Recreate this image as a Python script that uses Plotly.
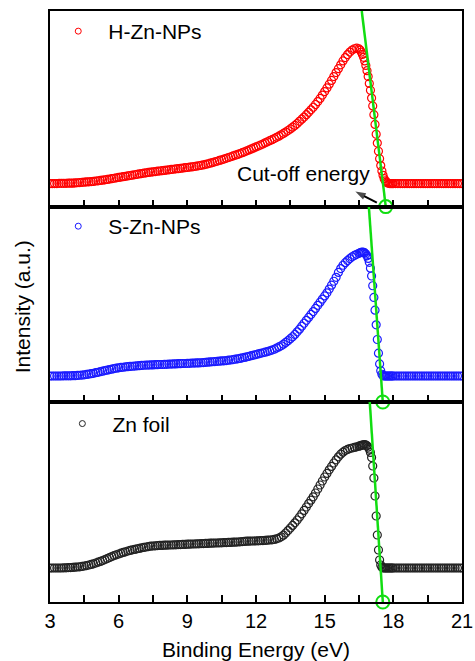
import numpy as np
import plotly.graph_objects as go

# Binding-energy grid (eV): 0.1 eV steps, 0.05 eV across the cut-off edge
energy = np.round(np.concatenate([
    np.arange(3.0, 16.41, 0.1),
    np.arange(16.5, 17.951, 0.05),
    np.arange(18.0, 21.01, 0.1),
]), 3)

# Normalised UPS intensity for each sample (0 = panel floor, 1 = panel ceiling)
h_zn_nps = [
    0.118, 0.118, 0.118, 0.118, 0.119, 0.119, 0.119, 0.119, 0.120, 0.120,
    0.120, 0.121, 0.122, 0.123, 0.124, 0.125, 0.126, 0.127, 0.128, 0.129,
    0.131, 0.132, 0.134, 0.135, 0.137, 0.139, 0.141, 0.143, 0.145, 0.147,
    0.149, 0.151, 0.153, 0.155, 0.157, 0.159, 0.161, 0.163, 0.165, 0.167,
    0.169, 0.171, 0.173, 0.175, 0.176, 0.178, 0.179, 0.181, 0.182, 0.184,
    0.185, 0.187, 0.188, 0.190, 0.191, 0.193, 0.194, 0.196, 0.197, 0.199,
    0.200, 0.202, 0.203, 0.205, 0.207, 0.209, 0.211, 0.213, 0.216, 0.219,
    0.222, 0.225, 0.229, 0.232, 0.236, 0.239, 0.243, 0.247, 0.251, 0.255,
    0.259, 0.263, 0.267, 0.271, 0.276, 0.280, 0.285, 0.290, 0.295, 0.300,
    0.305, 0.310, 0.315, 0.320, 0.326, 0.331, 0.337, 0.342, 0.348, 0.354,
    0.360, 0.367, 0.374, 0.381, 0.389, 0.397, 0.406, 0.415, 0.425, 0.436,
    0.447, 0.458, 0.470, 0.482, 0.495, 0.508, 0.522, 0.537, 0.553, 0.570,
    0.588, 0.607, 0.626, 0.645, 0.665, 0.685, 0.705, 0.725, 0.745, 0.762,
    0.777, 0.790, 0.800, 0.807, 0.810,
    0.806, 0.800, 0.790, 0.778, 0.763, 0.745, 0.722, 0.695, 0.665, 0.630,
    0.595, 0.555, 0.515, 0.470, 0.420, 0.370, 0.325, 0.283, 0.245, 0.210,
    0.182, 0.160, 0.143, 0.132, 0.125, 0.121, 0.119, 0.118, 0.118, 0.118,
    0.118, 0.118, 0.118, 0.118, 0.118, 0.118, 0.118, 0.118, 0.118, 0.118,
    0.118, 0.118, 0.118, 0.118, 0.118, 0.118, 0.118, 0.118, 0.118, 0.118,
    0.118, 0.118, 0.118, 0.118, 0.118, 0.118, 0.118, 0.118, 0.118, 0.118,
    0.118,
]

s_zn_nps = [
    0.133, 0.133, 0.133, 0.133, 0.133, 0.133, 0.134, 0.134, 0.134, 0.134,
    0.135, 0.135, 0.136, 0.137, 0.138, 0.139, 0.141, 0.143, 0.145, 0.147,
    0.150, 0.152, 0.155, 0.158, 0.161, 0.163, 0.166, 0.168, 0.171, 0.173,
    0.175, 0.177, 0.178, 0.180, 0.181, 0.182, 0.183, 0.184, 0.185, 0.186,
    0.187, 0.188, 0.189, 0.189, 0.190, 0.190, 0.191, 0.191, 0.192, 0.192,
    0.193, 0.193, 0.194, 0.194, 0.195, 0.195, 0.196, 0.196, 0.197, 0.197,
    0.198, 0.198, 0.199, 0.199, 0.200, 0.200, 0.201, 0.202, 0.203, 0.204,
    0.205, 0.206, 0.207, 0.208, 0.209, 0.210, 0.211, 0.212, 0.214, 0.215,
    0.217, 0.219, 0.221, 0.223, 0.226, 0.228, 0.231, 0.234, 0.237, 0.240,
    0.243, 0.246, 0.249, 0.252, 0.255, 0.258, 0.262, 0.266, 0.270, 0.276,
    0.282, 0.288, 0.296, 0.305, 0.314, 0.324, 0.334, 0.346, 0.359, 0.373,
    0.388, 0.403, 0.418, 0.433, 0.448, 0.463, 0.479, 0.495, 0.511, 0.527,
    0.543, 0.559, 0.578, 0.598, 0.618, 0.638, 0.663, 0.683, 0.700, 0.713,
    0.724, 0.734, 0.743, 0.750, 0.756,
    0.761, 0.764, 0.766, 0.767, 0.766, 0.763, 0.757, 0.748, 0.735, 0.715,
    0.685, 0.645, 0.595, 0.535, 0.470, 0.395, 0.320, 0.250, 0.195, 0.160,
    0.142, 0.135, 0.133, 0.133, 0.133, 0.133, 0.133, 0.133, 0.133, 0.133,
    0.133, 0.133, 0.133, 0.133, 0.133, 0.133, 0.133, 0.133, 0.133, 0.133,
    0.133, 0.133, 0.133, 0.133, 0.133, 0.133, 0.133, 0.133, 0.133, 0.133,
    0.133, 0.133, 0.133, 0.133, 0.133, 0.133, 0.133, 0.133, 0.133, 0.133,
    0.133,
]

zn_foil = [
    0.170, 0.170, 0.170, 0.170, 0.170, 0.170, 0.171, 0.171, 0.172, 0.172,
    0.173, 0.174, 0.175, 0.176, 0.178, 0.180, 0.182, 0.185, 0.188, 0.191,
    0.195, 0.199, 0.203, 0.207, 0.212, 0.217, 0.222, 0.227, 0.232, 0.236,
    0.240, 0.244, 0.248, 0.251, 0.255, 0.258, 0.261, 0.263, 0.266, 0.268,
    0.271, 0.273, 0.275, 0.277, 0.279, 0.280, 0.281, 0.282, 0.283, 0.283,
    0.284, 0.284, 0.285, 0.285, 0.286, 0.286, 0.287, 0.287, 0.288, 0.288,
    0.289, 0.289, 0.290, 0.290, 0.291, 0.291, 0.292, 0.292, 0.293, 0.293,
    0.294, 0.294, 0.295, 0.295, 0.296, 0.296, 0.297, 0.297, 0.298, 0.298,
    0.299, 0.299, 0.300, 0.301, 0.302, 0.303, 0.304, 0.304, 0.305, 0.305,
    0.306, 0.306, 0.307, 0.307, 0.308, 0.309, 0.310, 0.311, 0.313, 0.316,
    0.320, 0.326, 0.334, 0.345, 0.357, 0.370, 0.383, 0.396, 0.410, 0.425,
    0.441, 0.458, 0.475, 0.492, 0.509, 0.526, 0.545, 0.565, 0.585, 0.605,
    0.625, 0.643, 0.661, 0.678, 0.695, 0.711, 0.726, 0.739, 0.749, 0.757,
    0.763, 0.767, 0.770, 0.773, 0.776,
    0.779, 0.781, 0.783, 0.785, 0.786, 0.787, 0.785, 0.781, 0.774, 0.764,
    0.748, 0.722, 0.680, 0.620, 0.530, 0.430, 0.335, 0.260, 0.210, 0.185,
    0.174, 0.171, 0.170, 0.170, 0.170, 0.170, 0.170, 0.170, 0.170, 0.170,
    0.170, 0.170, 0.170, 0.170, 0.170, 0.170, 0.170, 0.170, 0.170, 0.170,
    0.170, 0.170, 0.170, 0.170, 0.170, 0.170, 0.170, 0.170, 0.170, 0.170,
    0.170, 0.170, 0.170, 0.170, 0.170, 0.170, 0.170, 0.170, 0.170, 0.170,
    0.170,
]

sample_names = ["H-Zn-NPs", "S-Zn-NPs", "Zn foil"]
sample_colors = ["#ff0000", "#1a1aff", "#222222"]
spectra = [h_zn_nps, s_zn_nps, zn_foil]

# Linear extrapolation of the secondary-electron edge: energy at panel top and at baseline
cutoff_line_top = [16.62, 16.93, 16.97]
cutoff_line_base = [17.67, 17.54, 17.54]

# "Cut-off energy" label and its pointer (top panel, data coordinates)
label_pos = (14.09, 0.17)
pointer_tail = (17.28, 0.02)
pointer_head = (16.34, 0.077)

# Panel vertical domains, top to bottom
domains = [[0.669, 1.0], [0.3384, 0.669], [0.0, 0.3384]]
legend_pos = [(0.02, 1.0), (0.02, 0.670), (0.03, 0.336)]

FONT = "Arial, Liberation Sans, sans-serif"
GREEN = "#11dd11"

fig = go.Figure()

for i in range(3):
    n = i + 1
    xa = "x" if n == 1 else f"x{n}"
    ya = "y" if n == 1 else f"y{n}"
    leg = "legend" if n == 1 else f"legend{n}"
    fig.add_trace(go.Scatter(
        x=energy, y=spectra[i], mode="markers",
        marker=dict(symbol="circle-open", size=8, color=sample_colors[i],
                    line=dict(width=1.2, color=sample_colors[i])),
        xaxis=xa, yaxis=ya, showlegend=False,
    ))
    # legend key: a smaller open circle than the data markers
    fig.add_trace(go.Scatter(
        x=[None], y=[None], mode="markers", name="\u00a0\u2009" + sample_names[i],
        marker=dict(symbol="circle-open", size=6, color=sample_colors[i],
                    line=dict(width=1, color=sample_colors[i])),
        xaxis=xa, yaxis=ya, legend=leg, showlegend=True,
    ))
    # cut-off extrapolation line
    fig.add_trace(go.Scatter(
        x=[cutoff_line_top[i], cutoff_line_base[i]], y=[1, 0], mode="lines",
        line=dict(color=GREEN, width=2.5), xaxis=xa, yaxis=ya,
        showlegend=False, hoverinfo="skip",
    ))
    # cut-off point marker on the baseline
    fig.add_trace(go.Scatter(
        x=[cutoff_line_base[i]], y=[0], mode="markers",
        marker=dict(symbol="circle-open", size=13, color=GREEN,
                    line=dict(width=2, color=GREEN)),
        xaxis=xa, yaxis=ya, showlegend=False, cliponaxis=False, hoverinfo="skip",
    ))

# pointer arrow toward the cut-off label
fig.add_trace(go.Scatter(
    x=[pointer_tail[0], pointer_head[0]], y=[pointer_tail[1], pointer_head[1]],
    mode="lines+markers", line=dict(color="black", width=2),
    marker=dict(symbol="arrow", size=[0, 11], angleref="previous", color="black",
                line=dict(width=0)),
    xaxis="x", yaxis="y", showlegend=False, cliponaxis=False, hoverinfo="skip",
))

layout = dict(
    width=475, height=661,
    margin=dict(l=50, r=13, t=11, b=59, autoexpand=False),
    paper_bgcolor="white", plot_bgcolor="white",
    font=dict(family=FONT, size=21, color="black"),
    showlegend=True,
)

for i in range(3):
    n = i + 1
    xkey = "xaxis" if n == 1 else f"xaxis{n}"
    ykey = "yaxis" if n == 1 else f"yaxis{n}"
    anchor_y = "y" if n == 1 else f"y{n}"
    anchor_x = "x" if n == 1 else f"x{n}"
    layout[xkey] = dict(
        range=[3, 21], anchor=anchor_y, domain=[0, 1], automargin=False,
        tickmode="linear", tick0=3, dtick=3,
        ticks="inside", ticklen=7, tickwidth=1.6, tickcolor="black",
        minor=dict(dtick=1.5, tick0=3, ticks="inside", ticklen=7, tickwidth=1.6, tickcolor="black"),
        showticklabels=(n == 3),
        tickfont=dict(family=FONT, size=20, color="black"),
        showline=True, linewidth=2, linecolor="black", mirror=True,
        showgrid=False, zeroline=False, fixedrange=True,
    )
    layout[ykey] = dict(
        range=[0, 1], domain=domains[i], anchor=anchor_x, automargin=False,
        showticklabels=False, ticks="",
        showline=True, linewidth=2, linecolor="black", mirror=True,
        showgrid=False, zeroline=False, fixedrange=True,
    )
    lkey = "legend" if n == 1 else f"legend{n}"
    layout[lkey] = dict(
        x=legend_pos[i][0], y=legend_pos[i][1], xanchor="left", yanchor="top",
        bgcolor="rgba(0,0,0,0)", borderwidth=0,
        font=dict(family=FONT, size=21, color="black"),
        itemsizing="trace",
    )

layout["xaxis3"]["title"] = dict(text="Binding Energy (eV)",
                                  font=dict(family=FONT, size=21, color="black"),
                                  standoff=12)

fig.update_layout(**layout)

fig.add_annotation(
    text="Intensity (a.u.)", textangle=-90, xref="paper", yref="paper",
    x=-0.066, y=0.5, xanchor="center", yanchor="middle", showarrow=False,
    font=dict(family=FONT, size=21, color="black"),
)

fig.add_annotation(
    text="Cut-off energy", xref="x", yref="y", x=label_pos[0], y=label_pos[1],
    showarrow=False, font=dict(family=FONT, size=21, color="black"),
)

fig.write_html("out.html")
